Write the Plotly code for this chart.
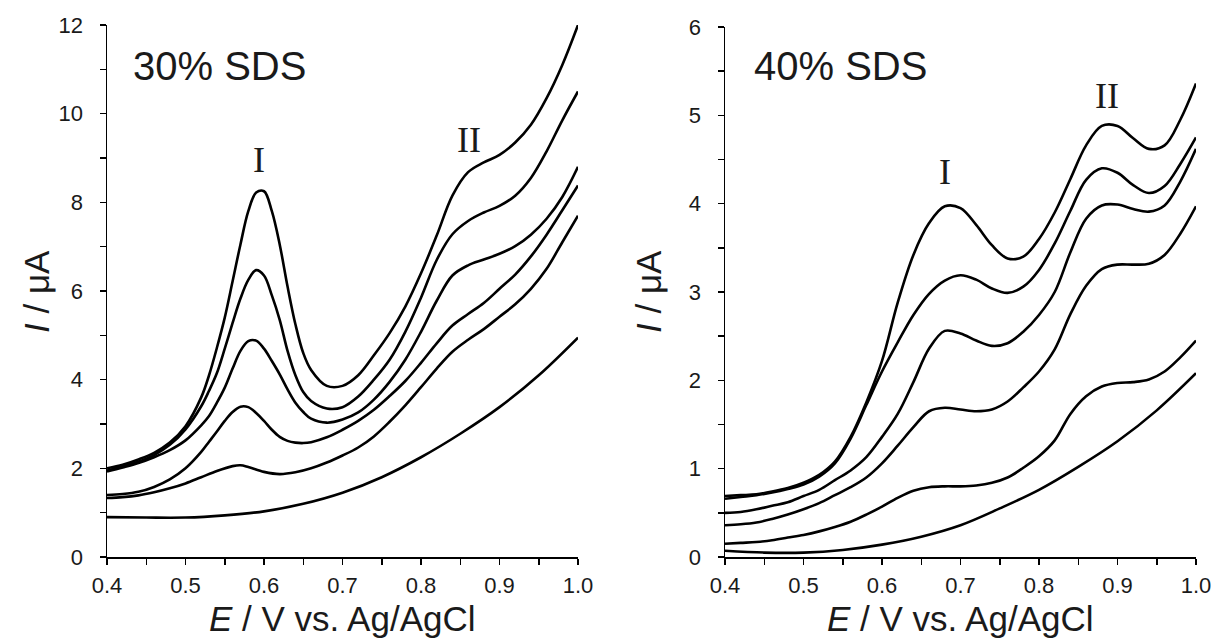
import plotly.graph_objects as go

# ---------------- data: 30% SDS (left panel) ----------------
L1_E = [0.40, 0.42, 0.44, 0.46, 0.48, 0.50, 0.52, 0.53, 0.54, 0.55, 0.56, 0.57, 0.58, 0.59, 0.60, 0.61, 0.62, 0.63, 0.64, 0.65, 0.66, 0.68, 0.70, 0.72, 0.74, 0.76, 0.78, 0.80, 0.82, 0.84, 0.86, 0.88, 0.90, 0.92, 0.94, 0.96, 0.98, 1.00]
L1_I = [2.00, 2.08, 2.20, 2.35, 2.58, 2.95, 3.60, 4.10, 4.72, 5.40, 6.22, 7.05, 7.80, 8.22, 8.25, 7.80, 7.05, 6.10, 5.25, 4.60, 4.22, 3.86, 3.86, 4.10, 4.55, 5.05, 5.65, 6.40, 7.25, 8.15, 8.68, 8.90, 9.07, 9.35, 9.75, 10.35, 11.10, 12.00]

L2_E = [0.40, 0.42, 0.44, 0.46, 0.48, 0.50, 0.52, 0.53, 0.54, 0.55, 0.56, 0.57, 0.58, 0.59, 0.60, 0.61, 0.62, 0.63, 0.64, 0.65, 0.66, 0.68, 0.70, 0.72, 0.74, 0.76, 0.78, 0.80, 0.82, 0.84, 0.86, 0.88, 0.90, 0.92, 0.94, 0.96, 0.98, 1.00]
L2_I = [1.95, 2.04, 2.15, 2.30, 2.53, 2.88, 3.40, 3.75, 4.15, 4.70, 5.28, 5.83, 6.25, 6.47, 6.35, 5.90, 5.35, 4.65, 4.10, 3.72, 3.52, 3.35, 3.38, 3.62, 4.00, 4.45, 5.08, 5.85, 6.70, 7.28, 7.58, 7.77, 7.92, 8.15, 8.55, 9.15, 9.85, 10.50]

L3_E = [0.40, 0.42, 0.44, 0.46, 0.48, 0.50, 0.52, 0.53, 0.54, 0.55, 0.56, 0.57, 0.58, 0.59, 0.60, 0.61, 0.62, 0.63, 0.64, 0.65, 0.66, 0.68, 0.70, 0.72, 0.74, 0.76, 0.78, 0.80, 0.82, 0.84, 0.86, 0.88, 0.90, 0.92, 0.94, 0.96, 0.98, 1.00]
L3_I = [1.93, 2.02, 2.12, 2.25, 2.41, 2.63, 2.97, 3.18, 3.48, 3.82, 4.25, 4.65, 4.87, 4.88, 4.70, 4.42, 4.12, 3.78, 3.48, 3.27, 3.12, 3.03, 3.10, 3.26, 3.55, 3.95, 4.45, 5.08, 5.78, 6.35, 6.58, 6.71, 6.84, 7.01, 7.27, 7.63, 8.12, 8.80]

L4_E = [0.40, 0.42, 0.44, 0.46, 0.48, 0.50, 0.52, 0.53, 0.54, 0.55, 0.56, 0.57, 0.58, 0.59, 0.60, 0.61, 0.62, 0.63, 0.64, 0.65, 0.66, 0.68, 0.70, 0.72, 0.74, 0.76, 0.78, 0.80, 0.82, 0.84, 0.86, 0.88, 0.90, 0.92, 0.94, 0.96, 0.98, 1.00]
L4_I = [1.40, 1.42, 1.47, 1.58, 1.75, 2.00, 2.37, 2.60, 2.83, 3.07, 3.27, 3.39, 3.38, 3.25, 3.07, 2.87, 2.71, 2.62, 2.58, 2.57, 2.59, 2.70, 2.87, 3.07, 3.32, 3.63, 3.97, 4.38, 4.82, 5.22, 5.48, 5.73, 6.05, 6.37, 6.78, 7.27, 7.82, 8.38]

L5_E = [0.40, 0.42, 0.44, 0.46, 0.48, 0.50, 0.52, 0.54, 0.56, 0.57, 0.58, 0.60, 0.62, 0.64, 0.66, 0.68, 0.70, 0.72, 0.74, 0.76, 0.78, 0.80, 0.82, 0.84, 0.86, 0.88, 0.90, 0.92, 0.94, 0.96, 0.98, 1.00]
L5_I = [1.33, 1.35, 1.39, 1.46, 1.55, 1.66, 1.80, 1.94, 2.05, 2.07, 2.03, 1.92, 1.87, 1.91, 2.00, 2.13, 2.29, 2.47, 2.72, 3.05, 3.42, 3.83, 4.25, 4.63, 4.90, 5.14, 5.42, 5.70, 6.05, 6.50, 7.10, 7.70]

L6_E = [0.40, 0.45, 0.50, 0.55, 0.60, 0.65, 0.70, 0.75, 0.80, 0.85, 0.90, 0.95, 1.00]
L6_I = [0.90, 0.89, 0.89, 0.94, 1.03, 1.20, 1.45, 1.80, 2.25, 2.78, 3.38, 4.10, 4.95]

# ---------------- data: 40% SDS (right panel) ----------------
R_E = [0.40, 0.42, 0.44, 0.46, 0.48, 0.50, 0.52, 0.54, 0.56, 0.58, 0.60, 0.62, 0.64, 0.66, 0.68, 0.70, 0.72, 0.74, 0.76, 0.78, 0.80, 0.82, 0.84, 0.86, 0.88, 0.90, 0.92, 0.94, 0.96, 0.98, 1.00]
R1_I = [0.69, 0.70, 0.71, 0.74, 0.78, 0.84, 0.93, 1.08, 1.36, 1.75, 2.22, 2.88, 3.42, 3.78, 3.97, 3.95, 3.76, 3.53, 3.38, 3.40, 3.60, 3.90, 4.28, 4.66, 4.88, 4.88, 4.74, 4.62, 4.66, 4.95, 5.36]
R2_I = [0.66, 0.68, 0.70, 0.73, 0.77, 0.82, 0.91, 1.06, 1.34, 1.72, 2.10, 2.43, 2.74, 2.98, 3.13, 3.19, 3.14, 3.04, 2.99, 3.06, 3.25, 3.55, 3.92, 4.27, 4.40, 4.35, 4.21, 4.12, 4.20, 4.45, 4.75]
R3_I = [0.50, 0.51, 0.54, 0.58, 0.62, 0.69, 0.76, 0.87, 0.98, 1.13, 1.36, 1.62, 1.98, 2.36, 2.56, 2.53, 2.45, 2.39, 2.42, 2.55, 2.74, 3.00, 3.45, 3.83, 3.98, 3.99, 3.94, 3.91, 3.98, 4.25, 4.62]
R4_I = [0.36, 0.37, 0.39, 0.43, 0.48, 0.54, 0.61, 0.70, 0.79, 0.90, 1.06, 1.26, 1.47, 1.65, 1.69, 1.67, 1.65, 1.67, 1.76, 1.92, 2.10, 2.35, 2.75, 3.07, 3.26, 3.31, 3.31, 3.32, 3.42, 3.66, 3.97]
R5_I = [0.15, 0.16, 0.17, 0.19, 0.22, 0.25, 0.29, 0.34, 0.40, 0.48, 0.57, 0.67, 0.75, 0.79, 0.80, 0.80, 0.81, 0.84, 0.90, 1.01, 1.14, 1.32, 1.62, 1.82, 1.93, 1.97, 1.98, 2.01, 2.10, 2.26, 2.45]
R6_E = [0.40, 0.45, 0.50, 0.55, 0.60, 0.65, 0.70, 0.75, 0.80, 0.85, 0.90, 0.95, 1.00]
R6_I = [0.07, 0.05, 0.05, 0.08, 0.14, 0.23, 0.36, 0.55, 0.76, 1.02, 1.31, 1.66, 2.08]

left_curves = [(L1_E, L1_I), (L2_E, L2_I), (L3_E, L3_I), (L4_E, L4_I), (L5_E, L5_I), (L6_E, L6_I)]
right_curves = [(R_E, R1_I), (R_E, R2_I), (R_E, R3_I), (R_E, R4_I), (R_E, R5_I), (R6_E, R6_I)]

panel_labels = ["30% SDS", "40% SDS"]
peak_labels = ["I", "II"]
x_title = "<i>E</i> / V vs. Ag/AgCl"
y_title = "<i>I</i> / μA"

W, H = 1213, 640
SANS = "Liberation Sans, Arial, sans-serif"
SERIF = "Liberation Serif, Times New Roman, serif"
TXT = "#1a1a1a"


def px(x):
    return x / W


def py(y):
    return 1 - y / H


fig = go.Figure()
line = dict(color="black", width=2.6, shape="spline", smoothing=1.0)
for e, i in left_curves:
    fig.add_trace(go.Scatter(x=e, y=i, mode="lines", line=line, xaxis="x", yaxis="y",
                             showlegend=False, hoverinfo="skip"))
for e, i in right_curves:
    fig.add_trace(go.Scatter(x=e, y=i, mode="lines", line=line, xaxis="x2", yaxis="y2",
                             showlegend=False, hoverinfo="skip"))

tickfont = dict(family=SANS, size=22, color=TXT)


def xax(domain, anchor):
    return dict(domain=domain, anchor=anchor, range=[0.4, 1.0], automargin=False,
                showline=True, linecolor="black", linewidth=1.5,
                ticks="outside", ticklen=6, tickwidth=1.5, tickcolor="black",
                tick0=0.4, dtick=0.1, tickformat=".1f", showgrid=False, zeroline=False,
                tickfont=tickfont, ticklabelstandoff=2,
                minor=dict(ticks="outside", dtick=0.05, tick0=0.4, ticklen=6, tickwidth=1.5,
                           tickcolor="black", showgrid=False))


def yax(domain, anchor, rng, dt):
    return dict(domain=domain, anchor=anchor, range=rng, automargin=False,
                showline=True, linecolor="black", linewidth=1.5,
                ticks="outside", ticklen=6, tickwidth=1.5, tickcolor="black",
                tick0=0, dtick=dt, showgrid=False, zeroline=False, tickfont=tickfont,
                ticklabelstandoff=12,
                minor=dict(ticks="outside", dtick=dt / 2, tick0=0, ticklen=6, tickwidth=1.5,
                           tickcolor="black", showgrid=False))


fig.update_layout(
    width=W, height=H,
    margin=dict(l=0, r=0, t=0, b=0, pad=0),
    paper_bgcolor="white", plot_bgcolor="white",
    xaxis=xax([px(107), px(578)], "y"),
    yaxis=yax([py(557), py(25)], "x", [0, 12], 2),
    xaxis2=xax([px(725), px(1196)], "y2"),
    yaxis2=yax([py(557), py(27)], "x2", [0, 6], 1),
)

annotations = [
    # panel labels
    dict(x=px(131), y=py(66), text=panel_labels[0], xanchor="left", yanchor="middle",
         font=dict(family=SANS, size=40, color=TXT)),
    dict(x=px(752), y=py(66), text=panel_labels[1], xanchor="left", yanchor="middle",
         font=dict(family=SANS, size=40, color=TXT)),
    # peak labels
    dict(x=px(259), y=py(160), text=peak_labels[0], xanchor="center", yanchor="middle",
         font=dict(family=SERIF, size=36, color=TXT)),
    dict(x=px(469), y=py(140), text=peak_labels[1], xanchor="center", yanchor="middle",
         font=dict(family=SERIF, size=36, color=TXT)),
    dict(x=px(945), y=py(172), text=peak_labels[0], xanchor="center", yanchor="middle",
         font=dict(family=SERIF, size=36, color=TXT)),
    dict(x=px(1107), y=py(96), text=peak_labels[1], xanchor="center", yanchor="middle",
         font=dict(family=SERIF, size=36, color=TXT)),
    # axis titles
    dict(x=px(343), y=py(618), text=x_title, xanchor="center", yanchor="middle",
         font=dict(family=SANS, size=35, color=TXT)),
    dict(x=px(960), y=py(618), text=x_title, xanchor="center", yanchor="middle",
         font=dict(family=SANS, size=35, color=TXT)),
    dict(x=px(36), y=py(292), text=y_title, textangle=-90, xanchor="center", yanchor="middle",
         font=dict(family=SANS, size=35, color=TXT)),
    dict(x=px(648), y=py(292), text=y_title, textangle=-90, xanchor="center", yanchor="middle",
         font=dict(family=SANS, size=35, color=TXT)),
]
for a in annotations:
    a.update(xref="paper", yref="paper", showarrow=False)
fig.update_layout(annotations=annotations)

# remove the default 8 px page margin so the figure fills the 1213x640 window exactly
fig.write_html("out.html",
               config={"displayModeBar": False, "staticPlot": True},
               post_script="document.body.style.margin='0px';document.body.style.overflow='hidden';")
